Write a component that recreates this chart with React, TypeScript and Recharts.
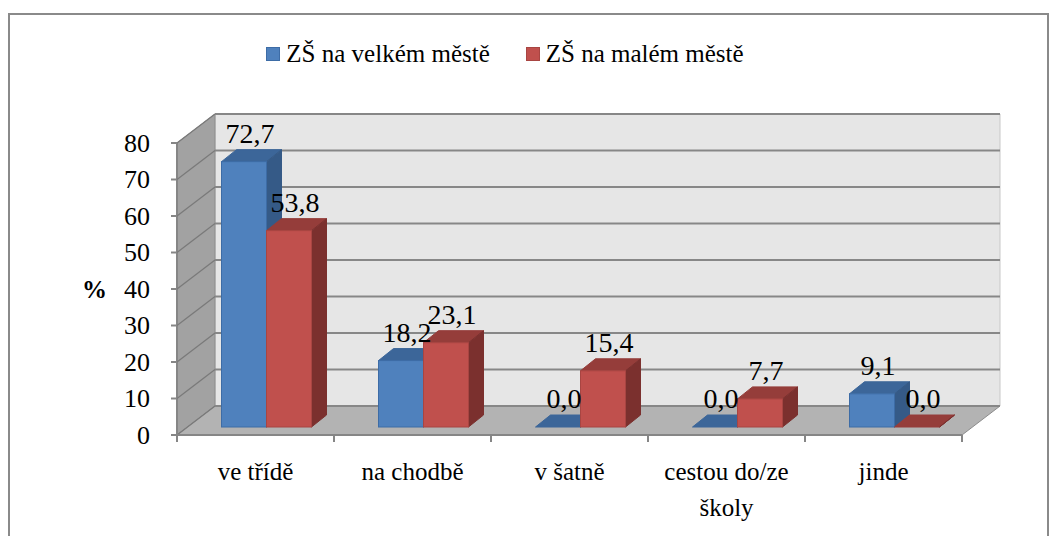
import React from 'react';
import { BarChart, Bar, XAxis, YAxis, CartesianGrid, Legend, LabelList } from 'recharts';

const categories = ['ve třídě', 'na chodbě', 'v šatně', 'cestou do/ze školy', 'jinde'];
const velkeMesto = [72.7, 18.2, 0.0, 0.0, 9.1];
const maleMesto = [53.8, 23.1, 15.4, 7.7, 0.0];
const yTicks = [0, 10, 20, 30, 40, 50, 60, 70, 80];
const seriesNames = ['ZŠ na velkém městě', 'ZŠ na malém městě'];
const yAxisTitle = '%';

const data = categories.map((name, i) => ({ name, velke: velkeMesto[i], male: maleMesto[i] }));

const FONT = "'Liberation Serif', 'DejaVu Serif', 'Times New Roman', Times, serif";
const FRONT = { dx: -10.5, dy: 8 };
const BACK = { dx: 27.5, dy: -21 };
const DEPTH = { dx: 15, dy: -12 };

const BLUE = { front: '#4F81BD', top: '#3C6699', side: '#355A87', stroke: '#3D6CA6' };
const RED = { front: '#C0504D', top: '#953D3A', side: '#7B302E', stroke: '#A84542' };

const pts = (arr: number[][]) => arr.map((p) => `${p[0]},${p[1]}`).join(' ');

const renderWalls = (L: number, R: number, T: number, B: number) => (
  <g>
    <polygon
      points={pts([[L + BACK.dx, T + BACK.dy], [R + BACK.dx, T + BACK.dy], [R + BACK.dx, B + BACK.dy], [L + BACK.dx, B + BACK.dy]])}
      fill="#E6E6E6" stroke="#C8C8C8" strokeWidth={1}
    />
    <polygon
      points={pts([[L + FRONT.dx, B + FRONT.dy], [L + FRONT.dx, T + FRONT.dy], [L + BACK.dx, T + BACK.dy], [L + BACK.dx, B + BACK.dy]])}
      fill="#A2A2A2" stroke="#8C8C8C" strokeWidth={1}
    />
    <polygon
      points={pts([[L + FRONT.dx, B + FRONT.dy], [R + FRONT.dx, B + FRONT.dy], [R + BACK.dx, B + BACK.dy], [L + BACK.dx, B + BACK.dy]])}
      fill="#B3B3B3" stroke="#8C8C8C" strokeWidth={1}
    />
  </g>
);

const gridLine = (props: any) => {
  const { x1, x2, y1, index, horizontalPoints, x, y, width, height } = props;
  let T = y;
  let B = y + height;
  if (Array.isArray(horizontalPoints) && horizontalPoints.length) {
    T = Math.min(...horizontalPoints);
    B = Math.max(...horizontalPoints);
  }
  const L = x1 ?? x;
  const R = x2 ?? x + width;
  return (
    <g key={`gl-${index}`}>
      {index === 0 && renderWalls(L, R, T, B)}
      <line x1={L + FRONT.dx} y1={y1 + FRONT.dy} x2={L + BACK.dx} y2={y1 + BACK.dy} stroke="#7A7A7A" strokeWidth={1.3} />
      <line x1={L + BACK.dx} y1={y1 + BACK.dy} x2={R + BACK.dx} y2={y1 + BACK.dy} stroke="#878787" strokeWidth={2} />
      {index === 0 && (
        <g>
          <line x1={L + FRONT.dx} y1={T + FRONT.dy} x2={L + FRONT.dx} y2={B + FRONT.dy} stroke="#868686" strokeWidth={2} />
          <line x1={L + FRONT.dx} y1={B + FRONT.dy} x2={R + FRONT.dx} y2={B + FRONT.dy} stroke="#868686" strokeWidth={2} />
        </g>
      )}
    </g>
  );
};

const YTick = (props: any) => {
  const { x, y, payload } = props;
  const ax = x + FRONT.dx;
  const ay = y + FRONT.dy;
  return (
    <g>
      <line x1={ax - 6} y1={ay} x2={ax} y2={ay} stroke="#868686" strokeWidth={2} />
      <text x={ax - 27} y={ay} textAnchor="end" dominantBaseline="central" fontFamily={FONT} fontSize={26} fill="#000">
        {payload.value}
      </text>
    </g>
  );
};

// break long labels before the last word (Excel wraps "cestou do/ze školy")
const wrapLabel = (s: string): string[] => {
  const words = String(s).split(' ');
  if (words.length > 2 && s.length > 12) return [words.slice(0, -1).join(' '), words[words.length - 1]];
  return [s];
};

const XTick = (props: any) => {
  const { x, y, payload, index, visibleTicksCount } = props;
  const half = payload && payload.offset ? payload.offset : 78.5;
  const ax = x + FRONT.dx;
  const ay = y + FRONT.dy;
  const lines = wrapLabel(payload.value);
  return (
    <g>
      <line x1={ax - half} y1={ay} x2={ax - half} y2={ay + 7} stroke="#868686" strokeWidth={2} />
      {index === visibleTicksCount - 1 && (
        <line x1={ax + half} y1={ay} x2={ax + half} y2={ay + 7} stroke="#868686" strokeWidth={2} />
      )}
      <text x={ax} y={ay + 45} textAnchor="middle" fontFamily={FONT} fontSize={25} fill="#000">
        {lines.map((ln, i) => (
          <tspan key={i} x={ax} dy={i === 0 ? 0 : 36}>
            {ln}
          </tspan>
        ))}
      </text>
    </g>
  );
};

const make3DBar = (c: typeof BLUE) => (props: any) => {
  const { x, y, width } = props;
  const h = Math.max(props.height || 0, 0);
  const { dx, dy } = DEPTH;
  return (
    <g>
      <polygon points={pts([[x, y], [x + dx, y + dy], [x + width + dx, y + dy], [x + width, y]])} fill={c.top} stroke={c.top} strokeWidth={1} />
      <polygon points={pts([[x + width, y], [x + width + dx, y + dy], [x + width + dx, y + h + dy], [x + width, y + h]])} fill={c.side} stroke={c.side} strokeWidth={1} />
      {h > 0 && <rect x={x} y={y} width={width} height={h} fill={c.front} stroke={c.stroke} strokeWidth={1} />}
    </g>
  );
};

const renderValueLabel = (props: any) => {
  const { x, y, width, value } = props;
  const txt = Number(value).toFixed(1).replace('.', ',');
  return (
    <text x={x + width / 2 + 6} y={y - 19} textAnchor="middle" fontFamily={FONT} fontSize={28} fill="#000">
      {txt}
    </text>
  );
};

const renderLegend = (props: any) => {
  const payload = [...(props.payload || [])].sort(
    (a: any, b: any) => seriesNames.indexOf(a.value) - seriesNames.indexOf(b.value)
  );
  return (
    <div style={{ display: 'flex', justifyContent: 'center', alignItems: 'center', gap: 36, fontFamily: FONT, fontSize: 25, color: '#000' }}>
      {payload.map((p: any, i: number) => (
        <div key={i} style={{ display: 'flex', alignItems: 'center' }}>
          <span
            style={{
              display: 'inline-block',
              width: 12,
              height: 12,
              background: p.color,
              border: `1px solid ${p.color === BLUE.front ? BLUE.stroke : RED.stroke}`,
              marginRight: 6,
            }}
          />
          <span>{p.value}</span>
        </div>
      ))}
    </div>
  );
};

export default function App() {
  return (
    <div style={{ position: 'absolute', left: 0, top: 0, width: 1056, height: 536, background: '#fff', overflow: 'hidden' }}>
      <div
        style={{
          position: 'absolute',
          left: 8,
          top: 13,
          width: 1037,
          height: 600,
          border: '2px solid #8A8A8A',
          boxSizing: 'content-box',
        }}
      />
      <div style={{ position: 'absolute', left: 0, top: 0 }}>
        <BarChart
          width={1056}
          height={536}
          data={data}
          margin={{ top: 135, right: 83.5, bottom: 0, left: 0 }}
          barSize={45}
          barGap={0}
        >
          <CartesianGrid horizontal={gridLine} vertical={false} />
          <XAxis
            dataKey="name"
            height={109}
            tickSize={0}
            tickMargin={0}
            axisLine={false}
            tickLine={false}
            interval={0}
            tick={XTick}
          />
          <YAxis
            width={187.5}
            domain={[0, 80]}
            ticks={yTicks}
            tickSize={0}
            tickMargin={0}
            axisLine={false}
            tickLine={false}
            tick={YTick}
            label={{ value: yAxisTitle, position: 'insideLeft', offset: 82, dy: 8, fontFamily: FONT, fontSize: 25, fontWeight: 'bold', fill: '#000' }}
          />
          <Legend
            verticalAlign="middle"
            layout="horizontal"
            align="center"
            wrapperStyle={{ top: 40, left: 0, width: 1010 }}
            content={renderLegend}
          />
          <Bar dataKey="velke" name={seriesNames[0]} fill={BLUE.front} shape={make3DBar(BLUE)} isAnimationActive={false}>
            <LabelList dataKey="velke" content={renderValueLabel} />
          </Bar>
          <Bar dataKey="male" name={seriesNames[1]} fill={RED.front} shape={make3DBar(RED)} isAnimationActive={false}>
            <LabelList dataKey="male" content={renderValueLabel} />
          </Bar>
        </BarChart>
      </div>
    </div>
  );
}
